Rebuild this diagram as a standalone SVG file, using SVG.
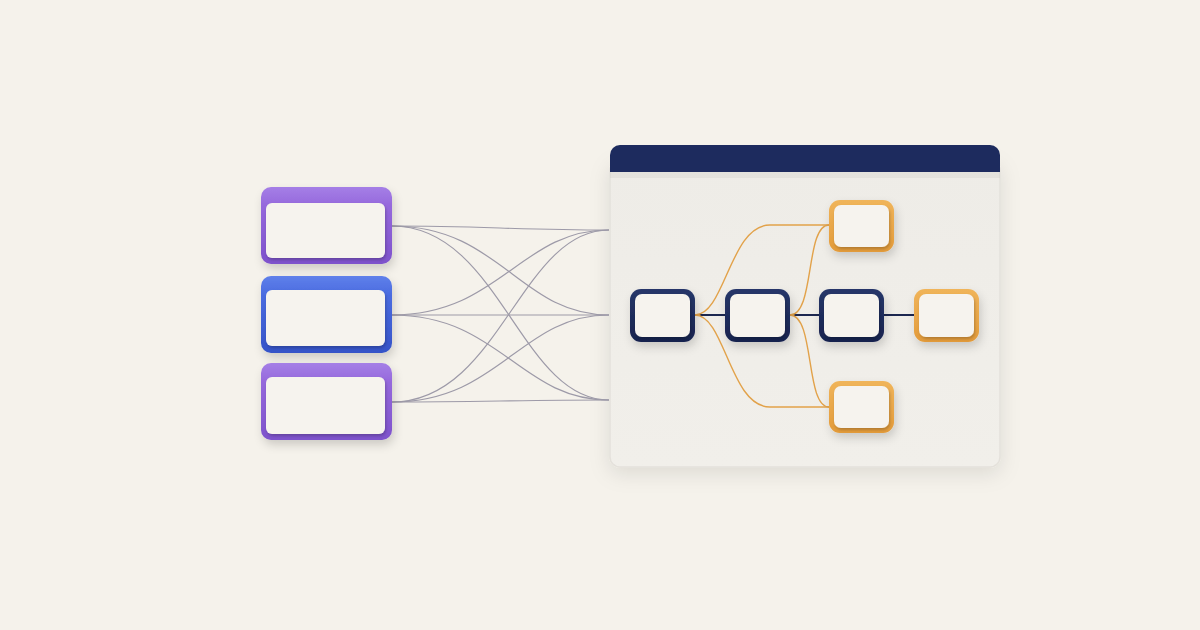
<svg xmlns="http://www.w3.org/2000/svg" width="1200" height="630" viewBox="0 0 1200 630">
<defs>
<linearGradient id="gPurple" x1="0" y1="0" x2="0" y2="1"><stop offset="0" stop-color="#a57fe6"/><stop offset="0.25" stop-color="#9568dc"/><stop offset="1" stop-color="#7e52cc"/></linearGradient>
<linearGradient id="gBlue" x1="0" y1="0" x2="0" y2="1"><stop offset="0" stop-color="#5f80ea"/><stop offset="0.25" stop-color="#4a6be0"/><stop offset="1" stop-color="#3553c8"/></linearGradient>
<linearGradient id="gOrange" x1="0" y1="0" x2="0" y2="1"><stop offset="0" stop-color="#f0b45a"/><stop offset="1" stop-color="#e39b3a"/></linearGradient>
<linearGradient id="gNavy" x1="0" y1="0" x2="0" y2="1"><stop offset="0" stop-color="#263669"/><stop offset="1" stop-color="#18234f"/></linearGradient>
<linearGradient id="gPanel" x1="0" y1="0" x2="0" y2="1"><stop offset="0" stop-color="#eeece7"/><stop offset="1" stop-color="#f1efea"/></linearGradient>
<filter id="sh" x="-30%" y="-30%" width="160%" height="170%"><feDropShadow dx="2" dy="5" stdDeviation="5" flood-color="#000" flood-opacity="0.16"/></filter>
<filter id="shp" x="-10%" y="-10%" width="120%" height="130%"><feDropShadow dx="0" dy="6" stdDeviation="10" flood-color="#000" flood-opacity="0.10"/></filter>
<filter id="shi" x="-20%" y="-20%" width="140%" height="150%"><feDropShadow dx="1" dy="2" stdDeviation="1.5" flood-color="#000" flood-opacity="0.22"/></filter>
</defs>
<style>
.inner{fill:#f6f3ee;filter:url(#shi)}
.wire{fill:none;stroke:#9d9aa8;stroke-width:1.2}
.orl{fill:none;stroke:#e2a24a;stroke-width:1.4}
.nvl{fill:none;stroke:#1c2750;stroke-width:2}
</style>
<rect width="1200" height="630" fill="#f5f2eb"/>

<g id="panel">
<rect x="610" y="160" width="390" height="307" rx="10" fill="url(#gPanel)" stroke="#e4e1db" stroke-width="1.5" filter="url(#shp)"/>
<path d="M610 172 V155 a10 10 0 0 1 10 -10 H990 a10 10 0 0 1 10 10 V172 Z" fill="#1d2b5e"/>
<rect x="610" y="172" width="390" height="6" fill="#000" opacity="0.04"/>
</g>

<g id="connectors">
<path class="wire" d="M392 226 C480 226 520 230 609 230"/>
<path class="wire" d="M392 226 C500 226 520 315 609 315"/>
<path class="wire" d="M392 226 C500 226 520 400 609 400"/>
<path class="wire" d="M392 315 C500 315 520 230 609 230"/>
<path class="wire" d="M392 315 L609 315"/>
<path class="wire" d="M392 315 C500 315 520 400 609 400"/>
<path class="wire" d="M392 402 C500 402 520 230 609 230"/>
<path class="wire" d="M392 402 C500 402 520 315 609 315"/>
<path class="wire" d="M392 402 C480 402 520 400 609 400"/>
<path class="nvl" d="M695 315 H725 M790 315 H819 M884 315 H914"/>
<path class="orl" d="M695 315 C725 315 730 225 770 225 H829"/>
<path class="orl" d="M695 315 C725 315 730 407 770 407 H829"/>
<path class="orl" d="M790 315 C815 315 805 225 829 225"/>
<path class="orl" d="M790 315 C815 315 805 407 829 407"/>
</g>

<g id="src1"><rect x="261" y="187" width="131" height="77" rx="10" fill="url(#gPurple)" filter="url(#sh)"/><rect class="inner" x="266" y="203" width="119" height="55" rx="6"/></g>
<g id="src2"><rect x="261" y="276" width="131" height="77" rx="10" fill="url(#gBlue)" filter="url(#sh)"/><rect class="inner" x="266" y="290" width="119" height="56" rx="6"/></g>
<g id="src3"><rect x="261" y="363" width="131" height="77" rx="10" fill="url(#gPurple)" filter="url(#sh)"/><rect class="inner" x="266" y="377" width="119" height="57" rx="6"/></g>

<g id="nA"><rect x="630" y="289" width="65" height="53" rx="11" fill="url(#gNavy)" filter="url(#sh)"/><rect class="inner" x="635" y="294" width="55" height="43" rx="7"/></g>
<g id="nB"><rect x="725" y="289" width="65" height="53" rx="11" fill="url(#gNavy)" filter="url(#sh)"/><rect class="inner" x="730" y="294" width="55" height="43" rx="7"/></g>
<g id="nC"><rect x="819" y="289" width="65" height="53" rx="11" fill="url(#gNavy)" filter="url(#sh)"/><rect class="inner" x="824" y="294" width="55" height="43" rx="7"/></g>
<g id="nD"><rect x="914" y="289" width="65" height="53" rx="11" fill="url(#gOrange)" filter="url(#sh)"/><rect class="inner" x="919" y="294" width="55" height="43" rx="7"/></g>
<g id="nTop"><rect x="829" y="200" width="65" height="52" rx="11" fill="url(#gOrange)" filter="url(#sh)"/><rect class="inner" x="834" y="205" width="55" height="42" rx="7"/></g>
<g id="nBot"><rect x="829" y="381" width="65" height="52" rx="11" fill="url(#gOrange)" filter="url(#sh)"/><rect class="inner" x="834" y="386" width="55" height="42" rx="7"/></g>
</svg>
